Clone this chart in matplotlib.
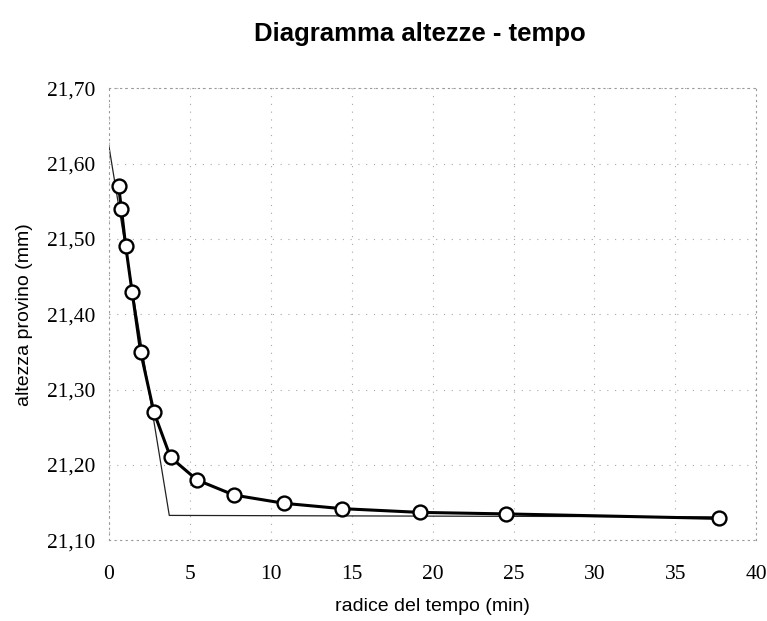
import numpy as np
import matplotlib
matplotlib.use("Agg")
import matplotlib.pyplot as plt
from matplotlib.ticker import MultipleLocator, FuncFormatter

# radice del tempo (min) / altezza provino (mm)
sqrt_t = [0.60, 0.77, 1.04, 1.43, 1.96, 2.78, 3.81, 5.45, 7.73, 10.84, 14.38, 19.22, 24.51, 37.72]
altezza = [21.57, 21.54, 21.49, 21.43, 21.35, 21.27, 21.21, 21.18, 21.16, 21.149, 21.142, 21.137, 21.135, 21.129]

# costruzione grafica (tangente iniziale + asintoto)
costr_x = [0.0, 3.73, 37.72]
costr_y = [21.623, 21.133, 21.131]

title = "Diagramma altezze - tempo"
xlabel = "radice del tempo (min)"
ylabel = "altezza provino (mm)"


def virgola(v, pos):
    return ("%.2f" % v).replace(".", ",")


fig = plt.figure(figsize=(7.67, 6.21), dpi=100)
ax = fig.add_axes([0.142, 0.130, 0.844, 0.728])

ax.plot(costr_x, costr_y, "-", color="#222222", linewidth=0.9, zorder=2)
ax.plot(sqrt_t, altezza, "o-", color="black", linewidth=2.2,
        markersize=10, markerfacecolor="white", markeredgecolor="black",
        markeredgewidth=1.7, zorder=3)

ax.set_xlim(0, 40)
ax.set_ylim(21.10, 21.70)
ax.xaxis.set_major_locator(MultipleLocator(5))
ax.yaxis.set_major_locator(MultipleLocator(0.1))
ax.yaxis.set_major_formatter(FuncFormatter(virgola))

ax.grid(True, color="#a8a8a8", linestyle=(0, (1, 6)), linewidth=0.8)
for s in ax.spines.values():
    s.set_color("#999999")
    s.set_linestyle((0, (1, 4)))
    s.set_linewidth(0.8)
ax.tick_params(length=0)
for lab in ax.get_xticklabels() + ax.get_yticklabels():
    lab.set_fontfamily("Liberation Serif")
    lab.set_fontsize(15.5)
ax.tick_params(axis="y", pad=10)
ax.tick_params(axis="x", pad=18)

ax.set_xlabel(xlabel, fontfamily="Liberation Sans", fontsize=14, labelpad=10)
ax.set_ylabel(ylabel, fontfamily="Liberation Sans", fontsize=14, labelpad=10)
fig.text(0.548, 0.945, title, ha="center", va="center",
         fontfamily="Liberation Sans", fontweight="bold", fontsize=18.5)

fig.savefig("out.png", dpi=100)
